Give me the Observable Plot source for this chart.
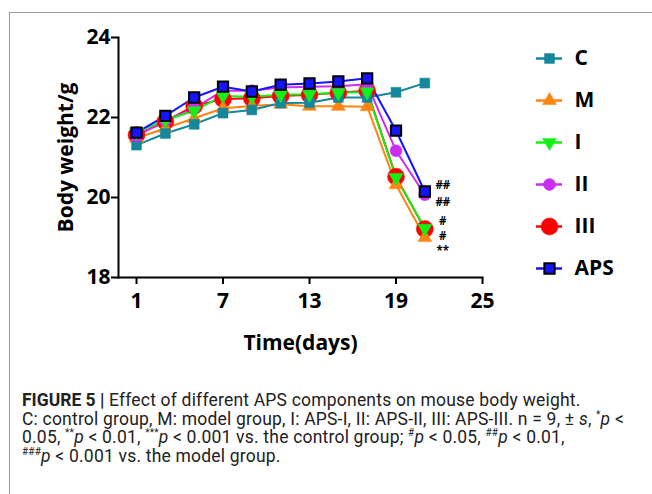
<!DOCTYPE html>
<html>
<head>
<meta charset="utf-8">
<script src="https://cdn.jsdelivr.net/npm/d3@7"></script>
<script src="https://cdn.jsdelivr.net/npm/@observablehq/plot@0.6"></script>
<style>
  html, body { margin: 0; padding: 0; background: #fff; }
  #page { position: relative; width: 652px; height: 494px; overflow: hidden; }
  #border { position: absolute; left: 9px; top: 12px; width: 660px; height: 500px;
            border-top: 1.5px solid #9a9a9a; border-left: 1.5px solid #9a9a9a; }
  #chart { position: absolute; left: 0; top: 0; }
  #legend { position: absolute; left: 530px; top: 40px; }
  #chart svg text, #legend svg text { font-family: "Open Sans", sans-serif; font-weight: 700; }
  #caption { position: absolute; left: 22px; top: 391px; white-space: nowrap;
             font-family: "Roboto", sans-serif; font-weight: 400;
             font-size: 17.5px; line-height: 18.6px; color: #222; letter-spacing: 0.2px; }
  #caption b { font-weight: 700; letter-spacing: 0; }
  #caption sup { font-size: 10px; vertical-align: 7px; line-height: 0; }
</style>
</head>
<body>
<div id="page">
  <div id="border"></div>
  <div id="chart"></div>
  <div id="legend"></div>
  <div id="caption"><b>FIGURE 5 |</b> Effect of different APS components on mouse body weight.<br>C: control group, M: model group, I: APS-I, II: APS-II, III: APS-III. n = 9, ± <i>s</i>, <sup>*</sup><i>p</i> &lt;<br>0.05, <sup>**</sup><i>p</i> &lt; 0.01, <sup>***</sup><i>p</i> &lt; 0.001 vs. the control group; <sup>#</sup><i>p</i> &lt; 0.05, <sup>##</sup><i>p</i> &lt; 0.01,<br><sup>###</sup><i>p</i> &lt; 0.001 vs. the model group.</div>
</div>
<script>
// ---- data ----
const days = [1, 3, 5, 7, 9, 11, 13, 15, 17, 19, 21];
const groups = ["C", "M", "I", "II", "III", "APS"];
const valC   = [21.31, 21.60, 21.83, 22.11, 22.19, 22.36, 22.37, 22.50, 22.50, 22.63, 22.86];
const valM   = [21.48, 21.73, 21.98, 22.23, 22.29, 22.33, 22.28, 22.28, 22.27, 20.32, 19.00];
const valI   = [21.64, 21.93, 22.17, 22.54, 22.52, 22.57, 22.58, 22.62, 22.64, 20.50, 19.23];
const valII  = [21.54, 21.92, 22.23, 22.67, 22.67, 22.75, 22.77, 22.78, 22.83, 21.17, 20.07];
const valIII = [21.56, 21.90, 22.29, 22.46, 22.48, 22.54, 22.57, 22.62, 22.67, 20.52, 19.21];
const valAPS = [21.62, 22.04, 22.50, 22.77, 22.65, 22.82, 22.85, 22.90, 22.98, 21.67, 20.15];
const xTicks = [1, 7, 13, 19, 25];
const yTicks = [18, 20, 22, 24];
const annotLabels = ["##", "##", "#", "#", "**"];
const annotY = [20.31, 19.88, 19.40, 19.04, 18.66];
const annotDay = 21;

// ---- styles ----
const colors  = {C: "#14879a", M: "#ff8412", I: "#14f014", II: "#cc2ef0", III: "#ff0000", APS: "#1414ff"};
const symbols = {C: "square", M: "triangle", I: "triangle", II: "circle", III: "circle", APS: "square"};
const radii   = {C: 5.6, M: 5.2, I: 5.2, II: 6, III: 8.5, APS: 5.8};
const rotates = {C: 0, M: 0, I: 180, II: 0, III: 0, APS: 0};
const strokes = {C: "#14879a", M: "#ff8412", I: "#14f014", II: "#cc2ef0", III: "#ff0000", APS: "#000"};

const valsBy = {C: valC, M: valM, I: valI, II: valII, III: valIII, APS: valAPS};
const rows = groups.flatMap(g => days.map((d, i) => ({group: g, day: d, value: valsBy[g][i]})));
const annots = annotLabels.map((t, i) => ({label: t, y: annotY[i], day: annotDay}));

const boldFont = "Open Sans";
const dotOrder = ["III", "M", "C", "II", "I", "APS"];
const lineOrder = ["III", "M", "C", "II", "I", "APS"];
const intFmt = d3.format("d");

const chart = Plot.plot({
  width: 652, height: 370,
  marginLeft: 118, marginRight: 170, marginTop: 37, marginBottom: 93,
  style: {fontFamily: boldFont, fontWeight: 700, fontSize: "21px", color: "#000", background: "transparent", overflow: "visible"},
  x: {domain: [-0.25, 25]},
  y: {domain: [18, 24]},
  marks: [
    Plot.frame({anchor: "left", stroke: "#000", strokeWidth: 2}),
    Plot.frame({anchor: "bottom", stroke: "#000", strokeWidth: 2}),
    Plot.axisX({ticks: xTicks, tickFormat: intFmt, tickSize: 7, tickPadding: 9, strokeWidth: 2, fontSize: 21,
                label: "Time(days)", labelAnchor: "center", labelArrow: "none", labelOffset: 72}),
    Plot.axisY({ticks: yTicks, tickFormat: intFmt, tickSize: 7, tickPadding: 1, strokeWidth: 2, fontSize: 21,
                label: "Body weight/g", labelAnchor: "center", labelArrow: "none", labelOffset: 60}),
    ...lineOrder.map(g => Plot.line(rows.filter(r => r.group === g),
        {x: "day", y: "value", stroke: colors[g], strokeWidth: 2})),
    ...dotOrder.map(g => Plot.dot(rows.filter(r => r.group === g),
        {x: "day", y: "value", symbol: () => symbols[g], r: radii[g], rotate: rotates[g],
         fill: colors[g], stroke: strokes[g], strokeWidth: g === "APS" ? 2 : 0.5})),
    Plot.text(annots, {x: "day", y: "y", text: "label", dx: 18, fontSize: 11.5, fontWeight: 700,
                       fontFamily: boldFont, fill: "#000"})
  ],
  symbol: {domain: ["square", "triangle", "circle"], range: ["square", "triangle", "circle"]}
});
document.getElementById("chart").appendChild(chart);

// ---- legend as a small Plot ----
const legend = Plot.plot({
  width: 120, height: 250, margin: 0,
  style: {fontFamily: boldFont, fontWeight: 700, fontSize: "21px", color: "#000", background: "transparent", overflow: "visible"},
  x: {domain: [0, 1], range: [6, 32], axis: null},
  y: {domain: groups, type: "point", padding: 0, range: [18, 228], axis: null},
  marks: [
    ...groups.map(g => Plot.ruleY([g], {x1: 0, x2: 1, stroke: colors[g], strokeWidth: 2.5})),
    ...groups.map(g => Plot.dot([g], {x: () => 0.5, y: d => d, symbol: () => symbols[g], r: radii[g], rotate: rotates[g],
        fill: colors[g], stroke: strokes[g], strokeWidth: g === "APS" ? 2 : 0.5})),
    Plot.text(groups, {x: () => 1, y: d => d, text: d => d, dx: 12, textAnchor: "start", fontSize: 21, fill: "#000"})
  ],
  symbol: {domain: ["square", "triangle", "circle"], range: ["square", "triangle", "circle"]}
});
document.getElementById("legend").appendChild(legend);
</script>
</body>
</html>
